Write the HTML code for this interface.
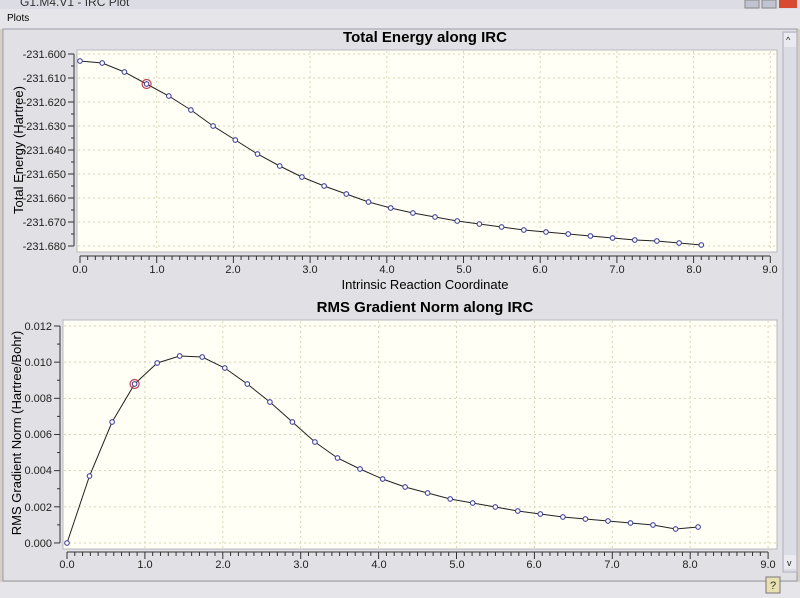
<!DOCTYPE html>
<html><head><meta charset="utf-8"><style>
html,body{margin:0;padding:0;width:800px;height:598px;overflow:hidden;background:#ece9d8;}
svg{display:block;font-family:"Liberation Sans",sans-serif;}
</style></head><body>
<svg id="s" width="800" height="598" viewBox="0 0 800 598">
<defs>
<marker id="m" markerWidth="8" markerHeight="8" refX="4" refY="4" markerUnits="userSpaceOnUse"><circle cx="4" cy="4" r="2.3" fill="#fff" stroke="#44449a" stroke-width="1.1"/></marker>
</defs>
<!-- window -->
<rect x="0" y="0" width="800" height="598" fill="#d4d0c8"/>
<rect x="0" y="0" width="800" height="9" fill="#dcdce4"/>
<text x="20" y="6" font-size="12" fill="#333">G1.M4.V1 - IRC Plot</text>
<rect x="745" y="0" width="14" height="8" fill="#c0c4d0" stroke="#888"/>
<rect x="762" y="0" width="14" height="8" fill="#c0c4d0" stroke="#888"/>
<rect x="779" y="0" width="18" height="8" fill="#d84a30"/>
<rect x="0" y="9" width="800" height="20" fill="#e6e6ea"/>
<text x="7" y="21" font-size="10" fill="#000">Plots</text>
<rect x="3" y="29" width="794" height="552" fill="#e1e1e5" stroke="#9a9aa6"/>
<rect x="783" y="32" width="14" height="540" fill="#dcdce4" stroke="#b0b0bc"/>
<rect x="784" y="33" width="12" height="14" fill="#eaeaf0"/>
<text x="786" y="43" font-size="9" fill="#222">^</text>
<rect x="784" y="555" width="12" height="14" fill="#eaeaf0"/>
<text x="787" y="566" font-size="9" fill="#222">v</text>
<rect x="0" y="582" width="800" height="16" fill="#e6e6ea"/>
<rect x="766" y="577" width="14" height="16" fill="#e8e0b0" stroke="#777"/>
<text x="770" y="589" font-size="11" fill="#333">?</text>

<!-- top plot -->
<rect x="77" y="50" width="700" height="202" fill="#fffff6" stroke="#b8b8c0"/>
<g id="g1" stroke="#d8d4b8" stroke-dasharray="2,3" stroke-width="1"></g>
<text x="425" y="42" font-size="15" font-weight="bold" text-anchor="middle">Total Energy along IRC</text>
<text x="425" y="289" font-size="13" text-anchor="middle">Intrinsic Reaction Coordinate</text>
<text transform="translate(23,150) rotate(-90)" font-size="13" text-anchor="middle">Total Energy (Hartree)</text>
<g font-size="11" text-anchor="end" fill="#222">
<text x="66" y="58">-231.600</text><text x="66" y="82">-231.610</text><text x="66" y="106">-231.620</text><text x="66" y="130">-231.630</text><text x="66" y="154">-231.640</text><text x="66" y="178">-231.650</text><text x="66" y="202">-231.660</text><text x="66" y="226">-231.670</text><text x="66" y="250">-231.680</text>
</g>
<g font-size="11" text-anchor="middle" fill="#222">
<text x="80" y="273">0.0</text><text x="157" y="273">1.0</text><text x="233" y="273">2.0</text><text x="310" y="273">3.0</text><text x="387" y="273">4.0</text><text x="464" y="273">5.0</text><text x="540" y="273">6.0</text><text x="617" y="273">7.0</text><text x="694" y="273">8.0</text><text x="770" y="273">9.0</text>
</g>
<polyline fill="none" stroke="#222" stroke-width="1" marker-start="url(#m)" marker-mid="url(#m)" marker-end="url(#m)" points="80,61 102.2,63 124.4,72 146.6,84 168.8,96 190.9,110 213.1,126 235.3,140 257.5,154 279.7,166 301.9,177 324.1,186 346.3,194 368.5,202 390.7,208 412.9,213 435,217 457.2,221 479.4,224 501.6,227 523.8,230 546,232 568.2,234 590.4,236 612.6,238 634.8,240 656.9,241 679.1,243 701.3,245"/>
<circle cx="146.6" cy="84" r="4.5" fill="none" stroke="#c04050" stroke-width="1.2"/>

<!-- bottom plot -->
<rect x="63" y="320" width="714" height="229" fill="#fffff6" stroke="#b8b8c0"/>
<g id="g2" stroke="#d8d4b8" stroke-dasharray="2,3" stroke-width="1"></g>
<text x="425" y="312" font-size="15" font-weight="bold" text-anchor="middle">RMS Gradient Norm along IRC</text>
<text transform="translate(21,433) rotate(-90)" font-size="13" text-anchor="middle">RMS Gradient Norm (Hartree/Bohr)</text>
<g font-size="11" text-anchor="end" fill="#222">
<text x="52" y="330">0.012</text><text x="52" y="366">0.010</text><text x="52" y="402">0.008</text><text x="52" y="438">0.006</text><text x="52" y="474">0.004</text><text x="52" y="511">0.002</text><text x="52" y="547">0.000</text>
</g>
<g font-size="11" text-anchor="middle" fill="#222">
<text x="67" y="568">0.0</text><text x="145" y="568">1.0</text><text x="223" y="568">2.0</text><text x="301" y="568">3.0</text><text x="379" y="568">4.0</text><text x="457" y="568">5.0</text><text x="534" y="568">6.0</text><text x="612" y="568">7.0</text><text x="690" y="568">8.0</text><text x="768" y="568">9.0</text>
</g>
<polyline fill="none" stroke="#222" stroke-width="1" marker-start="url(#m)" marker-mid="url(#m)" marker-end="url(#m)" points="67,543 89.5,476 112.1,422 134.6,384 157.2,363 179.7,356 202.2,357 224.8,368 247.3,384 269.9,402 292.4,422 314.9,442 337.5,458 360,469 382.6,479 405.1,487 427.6,493 450.2,499 472.7,503 495.3,507 517.8,511 540.3,514 562.9,517 585.4,519 608,521 630.5,523 653,525 675.6,529 698.1,527"/>
<circle cx="134.6" cy="384" r="4.5" fill="none" stroke="#c04050" stroke-width="1.2"/>
<g id="ax" stroke="#333" stroke-width="1"></g>
</svg>
<script>
var NS="http://www.w3.org/2000/svg";
function L(g,x1,y1,x2,y2){var l=document.createElementNS(NS,"line");l.setAttribute("x1",x1);l.setAttribute("y1",y1);l.setAttribute("x2",x2);l.setAttribute("y2",y2);document.getElementById(g).appendChild(l);}
var i;
// top grid
for(i=1;i<=9;i++){var x=80+i*76.7;L("g1",x,51,x,251);}
for(i=0;i<=8;i++){var y=54+i*24;L("g1",78,y,776,y);}
// bottom grid
for(i=1;i<=9;i++){var x=67+i*77.9;L("g2",x,321,x,548);}
for(i=0;i<=6;i++){var y=543-i*36.17;L("g2",64,y,776,y);}
// top axes
L("ax",74,54,74,246);
for(i=0;i<=16;i++){var y=54+i*12;L("ax",i%2?71:68,y,74,y);}
L("ax",80,256,770,256);
for(i=0;i<=90;i++){var x=80+i*7.67;L("ax",x,256,x,i%10?260:263);}
// bottom axes
L("ax",60,326,60,543);
for(i=0;i<=12;i++){var y=326+i*18.08;L("ax",i%2?57:54,y,60,y);}
L("ax",67,552,768,552);
for(i=0;i<=90;i++){var x=67+i*7.79;L("ax",x,552,x,i%10?556:559);}
</script>
</body></html>
